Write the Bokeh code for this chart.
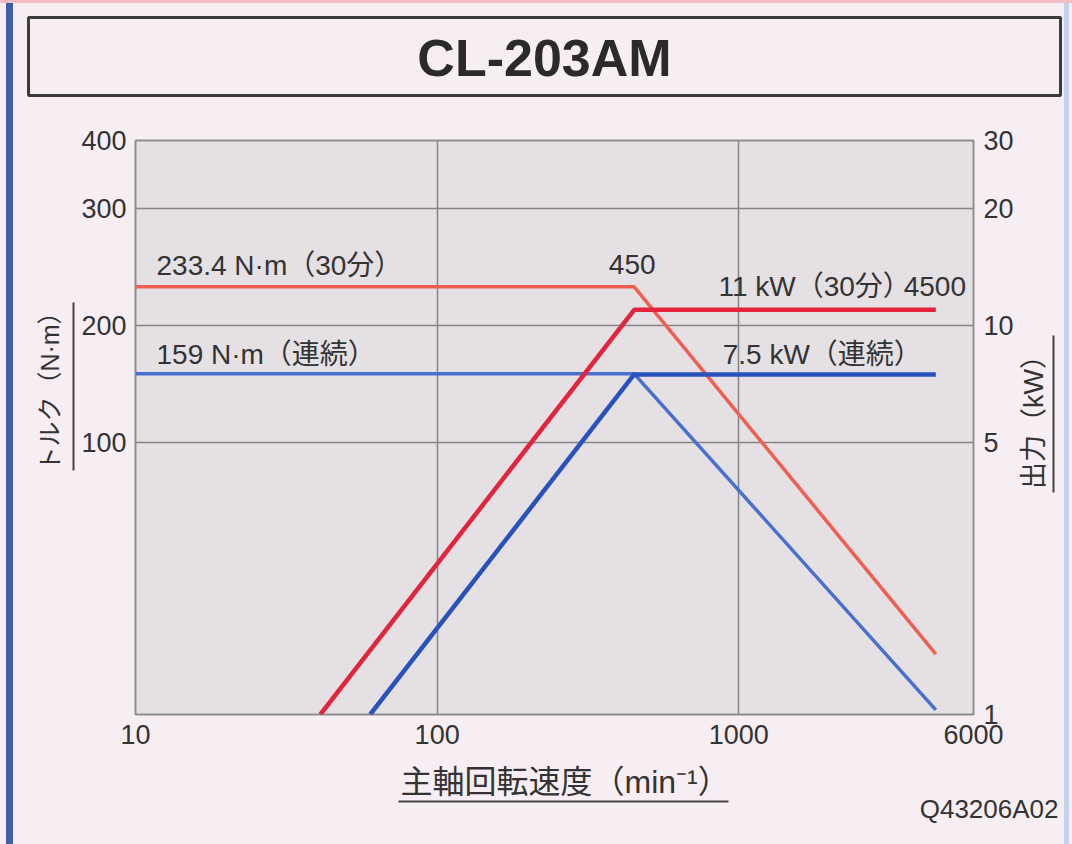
import math
import numpy as np
from bokeh.plotting import figure
from bokeh.layouts import column, row
from bokeh.models import LogAxis, FixedTicker, PrintfTickFormatter, Label, Range1d
from bokeh.embed import file_html
from bokeh.resources import INLINE

# ---------------- data ----------------
TITLE = "CL-203AM"
X_LABEL = "主軸回転速度（min⁻¹）"
Y_LABEL_LEFT = "トルク（N·m）"
Y_LABEL_RIGHT = "出力（kW）"
CODE = "Q43206A02"
X_TICKS = [10, 100, 1000, 6000]                 # spindle speed, min^-1 (log)
POWER_TICKS = [1, 5, 10, 20, 30]                # right axis, kW (log)
TORQUE_TICK_VALUES = [100, 200, 300, 400]       # left axis labels, N·m
TORQUE_TICK_POWER_POS = [5, 10, 20, 30]         # grid lines on which those labels are printed
TORQUE_AT_BOTTOM = 15.4                         # torque read at the bottom edge of the chart

# 30-minute rating
SPEED_TQ_30 = [10, 450, 4500]
TORQUE_30 = [233.4, 233.4, 23.34]
SPEED_PW_30 = [41, 450, 4500]
POWER_30 = [1, 11, 11]
# continuous rating
SPEED_TQ_CONT = [10, 450, 4500]
TORQUE_CONT = [159, 159, 15.9]
SPEED_PW_CONT = [60, 450, 4500]
POWER_CONT = [1, 7.5, 7.5]

BASE_SPEED = 450
MAX_SPEED = 4500

# ---------------- left (torque) axis calibration ----------------
def torque_to_plot(t):
    """Position of a torque value on the shared (kW) log scale, following the chart's left axis."""
    t = np.asarray(t, float)
    lp = np.log10(TORQUE_TICK_POWER_POS)
    upper = np.interp(t, TORQUE_TICK_VALUES, lp)
    lower = lp[0] * (np.log10(t) - math.log10(TORQUE_AT_BOTTOM)) / (
        math.log10(TORQUE_TICK_VALUES[0]) - math.log10(TORQUE_AT_BOTTOM))
    return 10 ** np.where(t >= TORQUE_TICK_VALUES[0], upper, lower)

# ---------------- styling ----------------
PAGE_BG = "#f7eef3"
PLOT_BG = "#e4e0e4"
GRID = "#858585"
TEXT = "#333333"
RED_PW = "#e2243c"
RED_TQ = "#ef5f52"
BLUE_PW = "#2a52bc"
BLUE_TQ = "#4a6fd0"
EDGE_BLUE = "#3f5ea8"
EDGE_LIGHT = "#c6d2ec"
EDGE_PINK = "#f3bcc4"
LAT = "'Liberation Sans', 'Noto Sans CJK JP'"

PAGE_W, PAGE_H = 1072, 844
FL, FR, FT, FB = 135, 975, 140, 714     # plot frame in page pixels
MID_L, MID_R, MID_T, MID_B = 75, 1016, 118, 760   # main figure in page pixels

# ---------------- main chart ----------------
p = figure(width=MID_R - MID_L, height=MID_B - MID_T,
           x_axis_type="log", y_axis_type="log",
           x_range=Range1d(10, 6000), y_range=Range1d(1, 30),
           output_backend="svg", toolbar_location=None,
           min_border_left=FL - MID_L, min_border_right=MID_R - FR,
           min_border_top=FT - MID_T, min_border_bottom=MID_B - FB)
p.border_fill_color = None
p.background_fill_color = PLOT_BG
p.outline_line_color = "#8e8e8e"
p.outline_line_width = 2

def style_axis(ax, size="27px"):
    ax.major_label_text_font = LAT
    ax.major_label_text_font_size = size
    ax.major_label_text_color = TEXT
    ax.axis_line_color = None
    ax.major_tick_line_color = None
    ax.minor_tick_line_color = None
    ax.major_tick_out = 0
    ax.major_tick_in = 0

xa = p.xaxis[0]
xa.ticker = FixedTicker(ticks=X_TICKS)
xa.formatter = PrintfTickFormatter(format="%d")
style_axis(xa)
xa.major_label_standoff = 10

ya = p.yaxis[0]
ya.ticker = FixedTicker(ticks=TORQUE_TICK_POWER_POS)
ya.formatter = PrintfTickFormatter(format="%d")
ya.major_label_overrides = {pp: str(t) for pp, t in zip(TORQUE_TICK_POWER_POS, TORQUE_TICK_VALUES)}
style_axis(ya)
ya.major_label_standoff = 9

ra = LogAxis(ticker=FixedTicker(ticks=POWER_TICKS), formatter=PrintfTickFormatter(format="%d"))
style_axis(ra)
ra.major_label_standoff = 10
p.add_layout(ra, "right")

p.xgrid.ticker = FixedTicker(ticks=X_TICKS)
p.ygrid.ticker = FixedTicker(ticks=POWER_TICKS)
for g in (p.xgrid[0], p.ygrid[0]):
    g.grid_line_color = GRID
    g.grid_line_width = 1.5
    g.minor_grid_line_color = None

# lines: torque first, power on top
p.line(SPEED_TQ_30, torque_to_plot(TORQUE_30), line_color=RED_TQ, line_width=3.5)
p.line(SPEED_TQ_CONT, torque_to_plot(TORQUE_CONT), line_color=BLUE_TQ, line_width=3.5)
p.line(SPEED_PW_30, POWER_30, line_color=RED_PW, line_width=4.5)
p.line(SPEED_PW_CONT, POWER_CONT, line_color=BLUE_PW, line_width=4.5)

def add_label(fig, x, y, text, xo=0, yo=0, align="left", size="28px", angle=0.0,
              bold=False, color=TEXT):
    fig.add_layout(Label(x=x, y=y, x_offset=xo, y_offset=yo, text=text, angle=angle,
                         text_align=align, text_baseline="middle",
                         text_font=LAT, text_font_size=size, text_color=color,
                         text_font_style="bold" if bold else "normal"))

t30 = float(torque_to_plot(TORQUE_30[0]))
tcont = float(torque_to_plot(TORQUE_CONT[0]))
add_label(p, SPEED_TQ_30[0], t30, "233.4 N·m（30分）", xo=21, yo=21)
add_label(p, SPEED_TQ_CONT[0], tcont, "159 N·m（連続）", xo=21, yo=19)
add_label(p, BASE_SPEED, t30, str(BASE_SPEED), xo=-2, yo=22, align="center")
add_label(p, MAX_SPEED, POWER_30[-1], "11 kW（30分）", xo=-25, yo=23, align="right")
add_label(p, MAX_SPEED, POWER_30[-1], str(MAX_SPEED), xo=-1, yo=23, align="center")
add_label(p, MAX_SPEED, POWER_CONT[-1], "7.5 kW（連続）", xo=-14, yo=20, align="right")

# ---------------- surrounding panels (page-pixel coordinates) ----------------
def deco_fig(x0, x1, y0, y1, bt=0, bb=0):
    """Transparent drawing panel whose frame covers page pixels x0..x1, y0+bt..y1-bb."""
    f = figure(width=x1 - x0, height=y1 - y0,
               x_range=Range1d(x0, x1), y_range=Range1d(y1 - bb, y0 + bt),
               output_backend="svg", toolbar_location=None,
               min_border=0, min_border_left=0, min_border_right=0,
               min_border_top=bt, min_border_bottom=bb,
               x_axis_location=None, y_axis_location=None)
    f.grid.visible = False
    f.outline_line_color = None
    f.background_fill_color = None
    f.border_fill_color = None
    return f

top = deco_fig(0, PAGE_W, 0, MID_T)
top.quad(left=[28], right=[1060], top=[17], bottom=[95], fill_color=None,
         line_color="#3b3b3b", line_width=3)
add_label(top, 544, 57, TITLE, align="center", size="52px", bold=True, color="#2a2a2a")

left = deco_fig(0, MID_L, MID_T, MID_B, bt=FT - MID_T, bb=MID_B - FB)
add_label(left, 49, 385, Y_LABEL_LEFT, align="center", size="25px", angle=math.pi / 2)
left.segment(x0=[73], y0=[302], x1=[73], y1=[470], line_color="#444444", line_width=2)

right = deco_fig(MID_R, PAGE_W, MID_T, MID_B, bt=FT - MID_T, bb=MID_B - FB)
add_label(right, 1033, 415, Y_LABEL_RIGHT, align="center", size="27px", angle=math.pi / 2)
right.segment(x0=[1053], y0=[335], x1=[1053], y1=[492], line_color="#444444", line_width=2)

bottom = deco_fig(0, PAGE_W, MID_B, PAGE_H)
add_label(bottom, 400, 781, X_LABEL, align="left", size="32px")
bottom.segment(x0=[398], y0=[801], x1=[728], y1=[801], line_color="#444444", line_width=2)
add_label(bottom, 1058, 808, CODE, align="right", size="26px")

# page background with the scanned page edges
PAGE_CSS = (
    f"linear-gradient(to bottom, {EDGE_PINK} 0px, {EDGE_PINK} 3px, rgba(0,0,0,0) 3px), "
    f"linear-gradient(to right, {PAGE_BG} 0px, {PAGE_BG} 6px, {EDGE_BLUE} 6px, {EDGE_BLUE} 13px, "
    f"{PAGE_BG} 13px, {PAGE_BG} 1064px, {EDGE_LIGHT} 1064px, {EDGE_LIGHT} 1069px, "
    f"{PAGE_BG} 1069px)"
)

layout = column(top, row(left, p, right, spacing=0), bottom, spacing=0,
                styles={"background": PAGE_CSS})

open("out.html", "w").write(file_html(layout, INLINE))
